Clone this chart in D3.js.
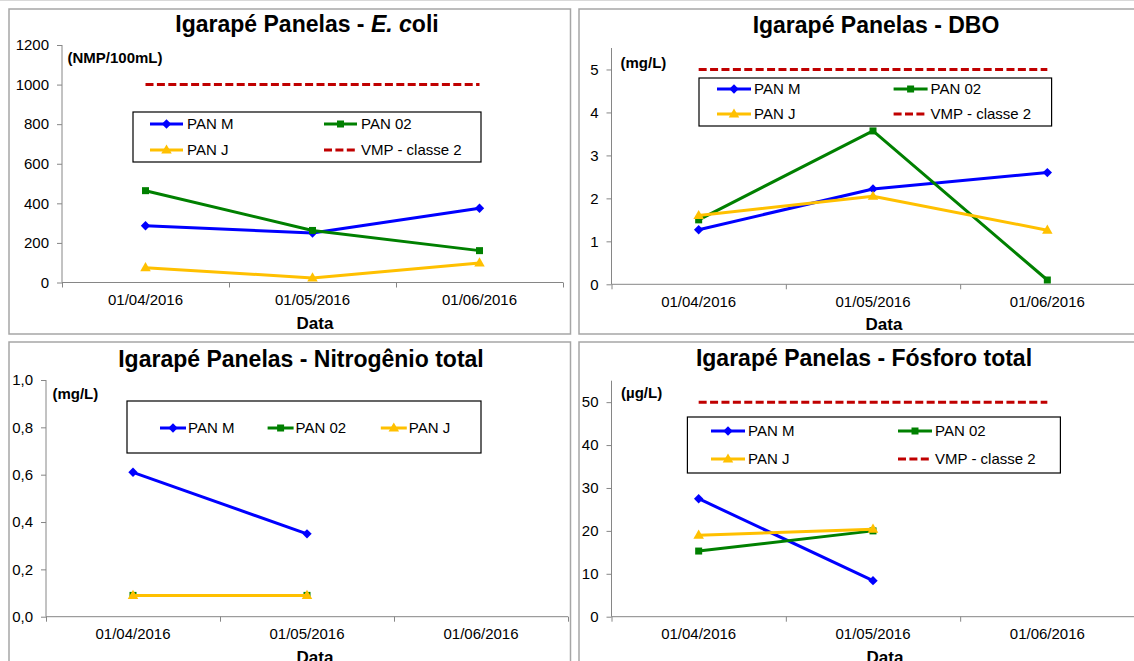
<!DOCTYPE html>
<html><head><meta charset="utf-8">
<script src="https://cdn.jsdelivr.net/npm/d3@7"></script>
<style>body{margin:0;background:#fff} svg{display:block} text{font-family:"Liberation Sans",Arial,sans-serif}</style>
</head><body><svg id="c" width="1134" height="661"></svg>
<script>
// ---------- DATA ----------
const categories = ["01/04/2016", "01/05/2016", "01/06/2016"];
const seriesNames = ["PAN M", "PAN 02", "PAN J"];
const vmpLabel = "VMP - classe 2";
const xAxisTitle = "Data";

const ecoliPanM = [287, 250, 375];
const ecoliPan02 = [464, 263, 161];
const ecoliPanJ = [75, 23, 99];
const ecoliVmp = 1000;
const ecoliTicks = [0, 200, 400, 600, 800, 1000, 1200];

const dboPanM = [1.27, 2.22, 2.60];
const dboPan02 = [1.50, 3.57, 0.10];
const dboPanJ = [1.60, 2.05, 1.26];
const dboVmp = 5;
const dboTicks = [0, 1, 2, 3, 4, 5];

const ntPanM = [0.61, 0.35, null];
const ntPan02 = [0.09, 0.09, null];
const ntPanJ = [0.09, 0.09, null];
const ntTicks = [0, 0.2, 0.4, 0.6, 0.8, 1.0];

const ptPanM = [27.5, 8.4, null];
const ptPan02 = [15.3, 20.0, null];
const ptPanJ = [19.0, 20.4, null];
const ptVmp = 50;
const ptTicks = [0, 10, 20, 30, 40, 50];

// ---------- STYLE ----------
const colors = ["#0000FF", "#008000", "#FFC000"];
const vmpColor = "#C00000";
const symbols = ["diamond", "square", "triangle"];
const axisColor = "#868686";
const frameColor = "#A6A6A6";

const svg = d3.select("#c");
svg.append("line").attr("x1", 0).attr("x2", 1134).attr("y1", 0.5).attr("y2", 0.5)
  .attr("stroke", "#d9d9d9").attr("stroke-width", 1);

function marker(g, type, color, x, y) {
  if (type === "diamond") {
    g.append("path").attr("d", d3.symbol(d3.symbolSquare, 44)())
      .attr("transform", `translate(${x},${y}) rotate(45)`).attr("fill", color);
  } else if (type === "square") {
    g.append("path").attr("d", d3.symbol(d3.symbolSquare, 49)())
      .attr("transform", `translate(${x},${y})`).attr("fill", color);
  } else {
    g.append("path").attr("d", d3.symbol(d3.symbolTriangle, 48)())
      .attr("transform", `translate(${x},${y + 0.5})`).attr("fill", color);
  }
}

function drawPanel(p) {
  const g = svg.append("g");
  g.append("rect").attr("x", p.frame[0]).attr("y", p.frame[1]).attr("width", p.frame[2]).attr("height", p.frame[3])
    .attr("fill", "none").attr("stroke", frameColor).attr("stroke-width", 1.5);

  const x = d3.scaleBand().domain(categories).range([p.x0, p.x1]);
  const xb = d3.scaleLinear().domain([0, categories.length]).range([p.x0, p.x1]);
  const y = d3.scaleLinear().domain([0, p.yMax]).range([p.y0, p.yTop]);

  // y axis
  const ya = g.append("g").attr("transform", `translate(${p.x0},0)`)
    .call(d3.axisLeft(y).tickValues(p.ticks).tickSize(5).tickPadding(8).tickFormat(p.fmt));
  ya.select(".domain").attr("stroke", axisColor).attr("d", `M0,${p.y0}V${p.yTop}`);
  ya.selectAll(".tick line").attr("stroke", axisColor);
  ya.selectAll(".tick text").attr("font-size", 15).attr("fill", "#000").attr("font-family", '"Liberation Sans",Arial,sans-serif');

  // x axis: tick marks at boundaries, labels at centers
  const xm = g.append("g").attr("transform", `translate(0,${p.y0})`)
    .call(d3.axisBottom(xb).tickValues(d3.range(categories.length + 1)).tickSize(5).tickFormat(""));
  xm.select(".domain").attr("stroke", axisColor).attr("d", `M${p.x0},0H${p.x1}`);
  xm.selectAll(".tick line").attr("stroke", axisColor);
  const xl = g.append("g").attr("transform", `translate(0,${p.y0})`)
    .call(d3.axisBottom(x).tickSize(0).tickPadding(12));
  xl.select(".domain").remove();
  xl.selectAll(".tick text").attr("font-size", 15).attr("fill", "#000").attr("font-family", '"Liberation Sans",Arial,sans-serif');

  g.append("text").attr("x", p.dataX).attr("y", p.y0 + 46).attr("text-anchor", "middle")
    .attr("font-size", 17).attr("font-weight", "bold").text(xAxisTitle);

  // title
  const t = g.append("text").attr("x", p.titleX).attr("y", p.titleY).attr("text-anchor", "middle")
    .attr("font-size", 23).attr("font-weight", "bold");
  p.title.forEach(part => {
    const ts = t.append("tspan").text(part[0]);
    if (part[1]) ts.attr("font-style", "italic");
  });
  // unit
  g.append("text").attr("x", p.unitX).attr("y", p.unitY).attr("font-size", 15).attr("font-weight", "bold").text(p.unit);

  // VMP
  if (p.vmp != null) {
    g.append("line").attr("x1", x(categories[0]) + x.bandwidth() / 2).attr("x2", x(categories[2]) + x.bandwidth() / 2)
      .attr("y1", y(p.vmp)).attr("y2", y(p.vmp)).attr("stroke", vmpColor).attr("stroke-width", 3)
      .attr("stroke-dasharray", "8,3.4");
  }

  // series
  const line = d3.line().defined(d => d.v != null).x(d => x(d.c) + x.bandwidth() / 2).y(d => y(d.v));
  p.series.forEach((vals, i) => {
    const pts = categories.map((c, k) => ({ c, v: vals[k] }));
    g.append("path").attr("d", line(pts)).attr("fill", "none").attr("stroke", colors[i]).attr("stroke-width", 3)
      .attr("stroke-linejoin", "round");
    pts.filter(d => d.v != null).forEach(d => marker(g, symbols[i], colors[i], x(d.c) + x.bandwidth() / 2, y(d.v)));
  });

  // legend
  const L = p.legend;
  g.append("rect").attr("x", L.box[0]).attr("y", L.box[1]).attr("width", L.box[2]).attr("height", L.box[3])
    .attr("fill", "#fff").attr("stroke", "#000").attr("stroke-width", 1.2);
  L.items.forEach(it => {
    const [idx, lx, ly] = it;
    if (idx < 3) {
      g.append("line").attr("x1", lx).attr("x2", lx + L.len).attr("y1", ly).attr("y2", ly)
        .attr("stroke", colors[idx]).attr("stroke-width", 3);
      marker(g, symbols[idx], colors[idx], lx + L.len / 2, ly);
    } else {
      g.append("line").attr("x1", lx).attr("x2", lx + L.len).attr("y1", ly).attr("y2", ly)
        .attr("stroke", vmpColor).attr("stroke-width", 3).attr("stroke-dasharray", "8,3.4");
    }
    g.append("text").attr("x", lx + L.txt).attr("y", ly + 5.3).attr("font-size", 15)
      .text(idx < 3 ? seriesNames[idx] : vmpLabel);
  });
}

const intFmt = d3.format("d");
const commaFmt = d => d3.format(".1f")(d).replace(".", ",");

drawPanel({
  frame: [9, 9, 561.5, 325], x0: 62, x1: 563, y0: 282.5, yTop: 45, yMax: 1200, ticks: ecoliTicks, fmt: intFmt,
  title: [["Igarapé Panelas - ", false], ["E. c", true], ["oli", false]], titleX: 307, titleY: 32.3,
  unit: "(NMP/100mL)", unitX: 67.5, unitY: 62.5, dataX: 315, vmp: ecoliVmp,
  series: [ecoliPanM, ecoliPan02, ecoliPanJ],
  legend: { box: [133, 112, 348, 50], len: 33, txt: 37, items: [[0, 150, 124], [1, 324, 124], [2, 150, 150], [3, 324, 150]] }
});
drawPanel({
  frame: [579, 9, 570, 325], x0: 611.5, x1: 1134.5, y0: 284.3, yTop: 48, yMax: 5.5, ticks: dboTicks, fmt: intFmt,
  title: [["Igarapé Panelas - DBO", false]], titleX: 876, titleY: 33.3,
  unit: "(mg/L)", unitX: 620.5, unitY: 67.5, dataX: 884, vmp: dboVmp,
  series: [dboPanM, dboPan02, dboPanJ],
  legend: { box: [699, 78, 352.6, 48], len: 34, txt: 37, items: [[0, 717, 89], [1, 893.6, 89], [2, 717, 114], [3, 893.6, 114]] }
});
drawPanel({
  frame: [9, 342, 561.5, 340], x0: 46, x1: 568, y0: 616.7, yTop: 380, yMax: 1.0, ticks: ntTicks, fmt: commaFmt,
  title: [["Igarapé Panelas - Nitrogênio total", false]], titleX: 301, titleY: 366.5,
  unit: "(mg/L)", unitX: 52.4, unitY: 399, dataX: 315, vmp: null,
  series: [ntPanM, ntPan02, ntPanJ],
  legend: { box: [127, 401, 354, 52], len: 26, txt: 28, items: [[0, 160, 428], [1, 267.6, 428], [2, 380.8, 428]] }
});
drawPanel({
  frame: [579, 342, 570, 340], x0: 611.5, x1: 1134.5, y0: 616.7, yTop: 380.7, yMax: 55, ticks: ptTicks, fmt: intFmt,
  title: [["Igarapé Panelas - Fósforo total", false]], titleX: 864, titleY: 366,
  unit: "(µg/L)", unitX: 621, unitY: 398.3, dataX: 885, vmp: ptVmp,
  series: [ptPanM, ptPan02, ptPanJ],
  legend: { box: [687.4, 417, 373, 56], len: 34, txt: 37, items: [[0, 711, 431], [1, 898, 431], [2, 711, 459], [3, 898, 459]] }
});
</script></body></html>
